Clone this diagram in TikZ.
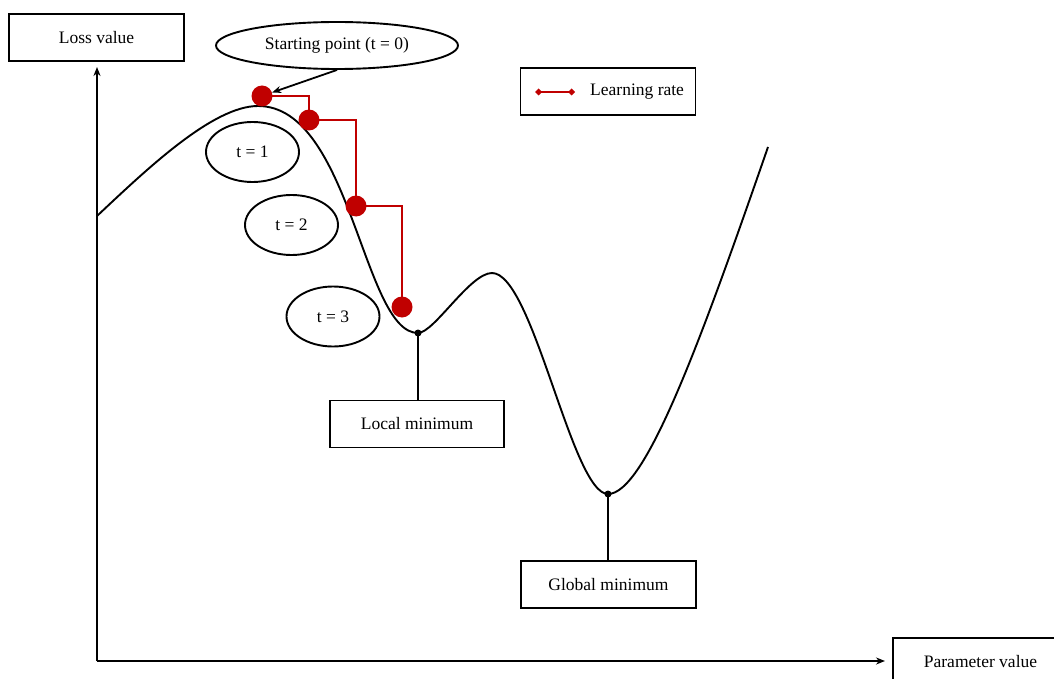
\documentclass[tikz,border=0pt]{standalone}
\usepackage{fontspec}
\setmainfont{Liberation Serif}
\usetikzlibrary{shapes.geometric,arrows.meta}
\definecolor{stepred}{HTML}{C00000}
\begin{document}
\begin{tikzpicture}[x=1pt,y=-1pt,
  every node/.style={font=\fontsize{17.5}{20}\selectfont, inner sep=0pt},
  box/.style={draw, line width=1.9pt, rectangle},
  oval/.style={draw, line width=1.9pt, ellipse},
  reddot/.style={circle, fill=stepred, minimum size=21pt},
  mindot/.style={circle, fill=black, minimum size=7pt},
  redline/.style={draw=stepred, line width=1.8pt},
  axis/.style={line width=1.9pt, -{Stealth[length=9pt,width=7pt]}},
  curve/.style={line width=1.9pt}]
\useasboundingbox (0,0) rectangle (1054,679);

% axis labels
\node[box, minimum width=175pt, minimum height=47pt] (loss) at (96.5,37.5) {Loss value};
\begin{scope}
  \clip (0,0) rectangle (1054,679);
  \node[box, minimum width=175pt, minimum height=47pt] (param) at (980.5,661.5) {Parameter value};
\end{scope}

% axes
\coordinate (origin) at (97,661);
\coordinate (ytip) at (97,67);
\coordinate (xtip) at (885,661);
\draw[axis] (origin) -- (ytip);
\draw[axis] (origin) -- (xtip);

% loss curve: rise, peak, local minimum, bump, global minimum, rise
\coordinate (c0) at (97,216);
\coordinate (peak) at (258,106);
\coordinate (lowA) at (418,333);
\coordinate (bump) at (492,273);
\coordinate (lowB) at (608,494);
\coordinate (cend) at (768,147);
\draw[curve] (c0) .. controls (147,169) and (213,106) .. (peak)
  .. controls (351,106) and (363,333) .. (lowA)
  .. controls (434,333) and (470,273) .. (bump)
  .. controls (533,273) and (572,494) .. (lowB)
  .. controls (645,494) and (700,343) .. (cend);

% step labels
\node[oval, minimum width=242pt, minimum height=47pt] (start) at (337,45.5) {Starting point (t = 0)};
\node[oval, minimum width=93pt, minimum height=60pt] (t1) at (252.5,152) {t = 1};
\node[oval, minimum width=93pt, minimum height=60pt] (t2) at (291.5,225) {t = 2};
\node[oval, minimum width=93pt, minimum height=60pt] (t3) at (333,316.5) {t = 3};

% gradient steps
\node[reddot] (p0) at (262,96) {};
\node[reddot] (p1) at (309,120) {};
\node[reddot] (p2) at (356,206) {};
\node[reddot] (p3) at (402,307) {};
\draw[redline] (p0.center) -| (p1.center);
\draw[redline] (p1.center) -| (p2.center);
\draw[redline] (p2.center) -| (p3.center);
\draw[line width=1.8pt, -{Stealth[length=9pt,width=7pt]}] (start.south) -- (p0);

% minima
\node[mindot] (lmin) at (lowA) {};
\node[mindot] (gmin) at (lowB) {};
\node[box, minimum width=174pt, minimum height=47pt] (local) at (417,424) {Local minimum};
\node[box, minimum width=175pt, minimum height=47pt] (global) at (608.5,584.5) {Global minimum};
\draw[line width=1.9pt] (lmin.center) -- (lmin.center |- local.north);
\draw[line width=1.9pt] (gmin.center) -- (gmin.center |- global.north);

% legend
\node[box, minimum width=175pt, minimum height=47pt] (legend) at (608,91.5) {};
\coordinate (la) at (535,92);
\coordinate (lb) at (575,92);
\draw[redline, {Diamond[length=7pt,width=7pt]}-{Diamond[length=7pt,width=7pt]}] (la) -- (lb);
\node[anchor=west] (legtext) at (590,92) {Learning rate};
\end{tikzpicture}
\end{document}
